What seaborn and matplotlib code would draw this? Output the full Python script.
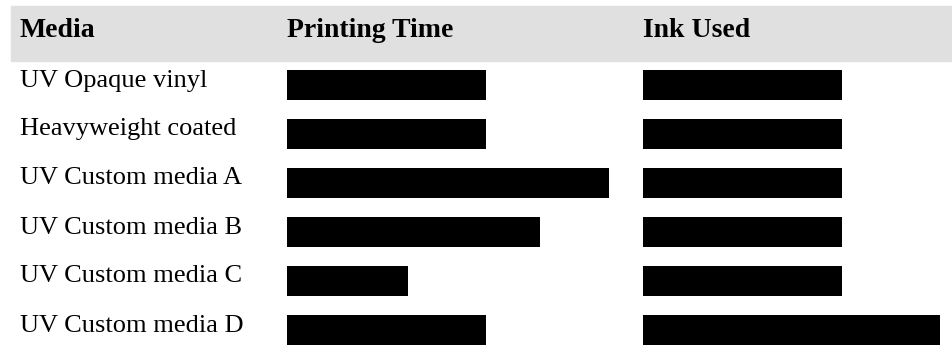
import matplotlib
matplotlib.use("Agg")
import matplotlib.pyplot as plt
from matplotlib.patches import Rectangle
from matplotlib.transforms import blended_transform_factory
import seaborn as sns
import pandas as pd

media = ["UV Opaque vinyl", "Heavyweight coated", "UV Custom media A",
         "UV Custom media B", "UV Custom media C", "UV Custom media D"]
printing_time = [100, 100, 162, 127, 61, 100]
ink_used = [100, 100, 100, 100, 100, 149]
headers = ["Media", "Printing Time", "Ink Used"]

df = pd.DataFrame({"Media": media, "Printing Time": printing_time, "Ink Used": ink_used})

sns.set_theme(style="white")
plt.rcParams["font.family"] = ["Liberation Serif", "DejaVu Serif"]

W, H = 952, 345
fig = plt.figure(figsize=(W / 100, H / 100), dpi=100)

# header band
fig.patches.append(Rectangle((11 / W, (H - 61) / H), (W - 11) / W, 55 / H,
                             transform=fig.transFigure, color="#e0e0e0", zorder=0))

px_per_unit = 1.99
row_pitch = 49.0
first_center = 85.0
top_px = first_center - row_pitch / 2
bottom_px = H
y_bottom_val = (bottom_px - first_center) / row_pitch
ax_h = (bottom_px - top_px) / H

def make_ax(x0, x1, col):
    ax = fig.add_axes([x0 / W, 0, (x1 - x0) / W, ax_h])
    sns.barplot(data=df, x=col, y="Media", orient="h", color="black",
                saturation=1, width=30 / row_pitch, linewidth=0, ax=ax)
    ax.set_xlim(0, (x1 - x0) / px_per_unit)
    ax.set_ylim(y_bottom_val, -0.5)
    ax.axis("off")
    return ax

ax1 = make_ax(287, 640, "Printing Time")
ax2 = make_ax(643, 952, "Ink Used")

# row labels (baseline about 1px below bar centre)
tr = blended_transform_factory(fig.transFigure, ax1.transData)
for i, m in enumerate(media):
    ax1.text(20 / W, i + 1.5 / row_pitch, m, transform=tr, ha="left",
             va="baseline", fontsize=19, color="black", clip_on=False)

# header texts
hy = (H - 37) / H
for x, t in zip([20, 287, 643], headers):
    fig.text(x / W, hy, t, ha="left", va="baseline", fontsize=20,
             fontweight="bold", color="black")

fig.savefig("out.png", dpi=100)
